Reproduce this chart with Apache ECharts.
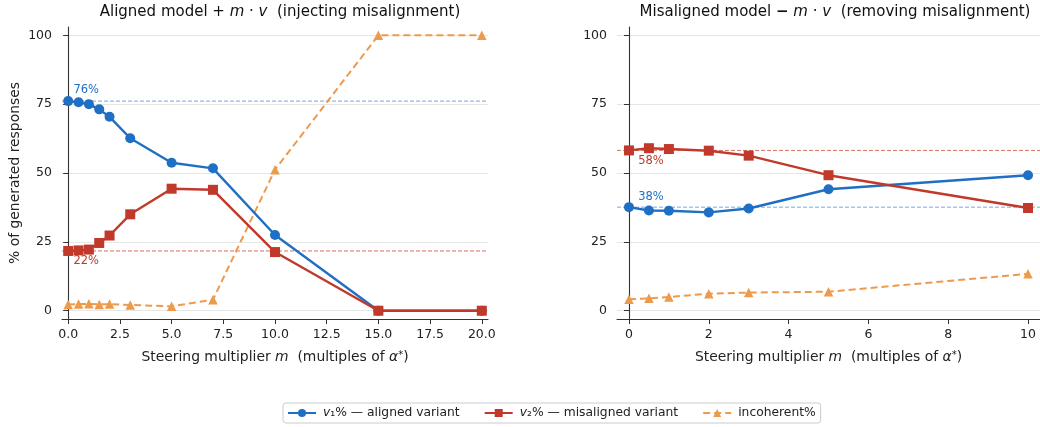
<!DOCTYPE html>
<html>
<head>
<meta charset="utf-8">
<script src="https://cdn.jsdelivr.net/npm/echarts@6/dist/echarts.min.js"></script>
<style>
  html, body { margin: 0; padding: 0; background: #fff; }
  #chart { width: 1040px; height: 427px; }
</style>
</head>
<body>
<div id="chart"></div>
<script>
// left panel: aligned model + m*v
const mLeft = [0, 0.5, 1, 1.5, 2, 3, 5, 7, 10, 15, 20]
const v1Left = [76.1, 75.7, 75.0, 73.1, 70.4, 62.6, 53.7, 51.7, 27.5, 0, 0]
const v2Left = [21.7, 21.9, 22.2, 24.6, 27.3, 35.0, 44.3, 43.9, 21.3, 0, 0]
const incLeft = [2.3, 2.4, 2.5, 2.3, 2.4, 2.1, 1.6, 4.0, 51.2, 100, 100]

// right panel: misaligned model - m*v
const mRight = [0, 0.5, 1, 2, 3, 5, 10]
const v1Right = [37.6, 36.4, 36.3, 35.7, 37.1, 44.1, 49.2]
const v2Right = [58.2, 59.0, 58.7, 58.1, 56.3, 49.2, 37.3]
const incRight = [4.2, 4.5, 5.0, 6.2, 6.6, 6.9, 13.4]

const yTicks = [0, 25, 50, 75, 100]
const xTicksLeft = [0, 2.5, 5, 7.5, 10, 12.5, 15, 17.5, 20]
const xTicksRight = [0, 2, 4, 6, 8, 10]
const xRangeLeft = [-0.3, 20.3]
const xRangeRight = [-0.3, 10.3]

const BLUE = '#1f6fc4'
const RED = '#c0392b'
const ORANGE = '#ee9a4d'
const BLUE_BASE = '#7aa7e0'
const RED_BASE = '#dc6f65'
const FONT = 'DejaVu Sans'

const legendNames = {
  v1: '{i|v}₁% — aligned variant',
  v2: '{i|v}₂% — misaligned variant',
  inc: 'incoherent%'
}

function pairs(xs, ys, labelOpt) {
  return xs.map((x, i) => {
    if (i === 0 && labelOpt) {
      return {
        value: [x, ys[i]],
        label: {
          show: true,
          position: 'inside',
          offset: labelOpt.offset,
          formatter: Math.round(ys[i]) + '%',
          color: labelOpt.color,
          fontSize: 11.5,
          fontFamily: FONT
        }
      }
    }
    return [x, ys[i]]
  })
}

// horizontal dashed reference line at the m=0 value, across the whole axis
function baseline(idx, range, value, color) {
  return {
    name: 'base',
    type: 'line',
    xAxisIndex: idx,
    yAxisIndex: idx,
    data: range.map(x => [x, value]),
    symbol: 'none',
    silent: true,
    lineStyle: { color: color, width: 1, type: [4, 2] },
    emphasis: { disabled: true },
    z: 1
  }
}

function lineSeries(name, idx, xs, ys, opt) {
  return {
    name: name,
    type: 'line',
    xAxisIndex: idx,
    yAxisIndex: idx,
    data: pairs(xs, ys, opt.label),
    symbol: opt.symbol,
    symbolSize: opt.size,
    showAllSymbol: true,
    lineStyle: { color: opt.color, width: opt.width, type: opt.dash || 'solid' },
    itemStyle: { color: opt.color },
    emphasis: { disabled: true },
    z: opt.z
  }
}

function xAxis(idx, range, ticks, fmt) {
  return {
    type: 'value',
    gridIndex: idx,
    min: range[0],
    max: range[1],
    axisLine: { show: true, onZero: false, lineStyle: { color: '#333', width: 1.1 } },
    axisTick: { show: true, length: 5, customValues: ticks, lineStyle: { color: '#333' } },
    axisLabel: { customValues: ticks, formatter: fmt, margin: 9, color: '#222', fontSize: 12.5, fontFamily: FONT },
    splitLine: { show: false },
    name: 'Steering multiplier {i|m}  (multiples of {i|α}{s|*})',
    nameLocation: 'middle',
    nameGap: 31,
    nameTextStyle: {
      fontSize: 13.9, fontFamily: FONT, color: '#222',
      rich: {
        i: { fontStyle: 'italic', fontSize: 13.9, fontFamily: FONT, color: '#222' },
        s: { fontSize: 10, fontFamily: FONT, color: '#222', verticalAlign: 'top' }
      }
    }
  }
}

function yAxis(idx, withName) {
  return {
    type: 'value',
    gridIndex: idx,
    min: -3,
    max: 103,
    axisLine: { show: true, lineStyle: { color: '#333', width: 1.1 } },
    axisTick: { show: true, length: 5, customValues: yTicks, lineStyle: { color: '#333' } },
    axisLabel: { customValues: yTicks, margin: 10, color: '#222', fontSize: 12.5, fontFamily: FONT },
    splitLine: { show: true, lineStyle: { color: '#e6e6e6', width: 1 } },
    name: withName ? '% of generated responses' : '',
    nameLocation: 'middle',
    nameGap: 40,
    nameTextStyle: { fontSize: 13.9, fontFamily: FONT, color: '#222' }
  }
}

const titleRich = {
  i: { fontStyle: 'italic', fontSize: 15, fontFamily: FONT, color: '#111' },
  b: { fontWeight: 'bold', fontSize: 15, fontFamily: FONT, color: '#111' }
}

const chart = echarts.init(document.getElementById('chart'))

const option = {
  animation: false,
  backgroundColor: '#fff',
  title: [
    {
      text: 'Aligned model + {i|m} · {i|v}  (injecting misalignment)',
      left: 275, top: 0, textAlign: 'center',
      textStyle: { fontSize: 15, fontWeight: 'normal', fontFamily: FONT, color: '#111', rich: titleRich }
    },
    {
      text: 'Misaligned model {b|−} {i|m} · {i|v}  (removing misalignment)',
      left: 830, top: 0, textAlign: 'center',
      textStyle: { fontSize: 15, fontWeight: 'normal', fontFamily: FONT, color: '#111', rich: titleRich }
    }
  ],
  legend: {
    left: 283,
    top: 403,
    itemWidth: 28,
    itemHeight: 10,
    itemGap: 24,
    padding: [4, 5, 4, 4],
    borderColor: '#cccccc',
    borderWidth: 1,
    borderRadius: 3,
    selectedMode: false,
    data: ['v1', 'v2', 'inc'],
    formatter: n => legendNames[n],
    textStyle: {
      fontSize: 12.3, fontFamily: FONT, color: '#222', padding: [0, 0, 0, 2],
      rich: { i: { fontStyle: 'italic', fontSize: 12.3, fontFamily: FONT, color: '#222' } }
    }
  },
  grid: [
    { left: 62, top: 27, width: 426, height: 292 },
    { left: 617, top: 27, width: 426, height: 292 }
  ],
  xAxis: [
    xAxis(0, xRangeLeft, xTicksLeft, v => v.toFixed(1)),
    xAxis(1, xRangeRight, xTicksRight, v => String(v))
  ],
  yAxis: [yAxis(0, true), yAxis(1, false)],
  series: [
    baseline(0, xRangeLeft, v1Left[0], BLUE_BASE),
    baseline(0, xRangeLeft, v2Left[0], RED_BASE),
    baseline(1, xRangeRight, v1Right[0], BLUE_BASE),
    baseline(1, xRangeRight, v2Right[0], RED_BASE),
    lineSeries('v1', 0, mLeft, v1Left, {
      symbol: 'circle', size: 10, color: BLUE, width: 2.4, z: 3,
      label: { offset: [18, -11], color: BLUE }
    }),
    lineSeries('v2', 0, mLeft, v2Left, {
      symbol: 'rect', size: 10, color: RED, width: 2.4, z: 3,
      label: { offset: [18, 10], color: RED }
    }),
    lineSeries('inc', 0, mLeft, incLeft, {
      symbol: 'triangle', size: 9.5, color: ORANGE, width: 2, dash: [7, 4], z: 2
    }),
    lineSeries('v1', 1, mRight, v1Right, {
      symbol: 'circle', size: 10, color: BLUE, width: 2.4, z: 3,
      label: { offset: [22, -10], color: BLUE }
    }),
    lineSeries('v2', 1, mRight, v2Right, {
      symbol: 'rect', size: 10, color: RED, width: 2.4, z: 3,
      label: { offset: [22, 11], color: RED }
    }),
    lineSeries('inc', 1, mRight, incRight, {
      symbol: 'triangle', size: 9.5, color: ORANGE, width: 2, dash: [7, 4], z: 2
    })
  ]
}

chart.setOption(option)
</script>
</body>
</html>
